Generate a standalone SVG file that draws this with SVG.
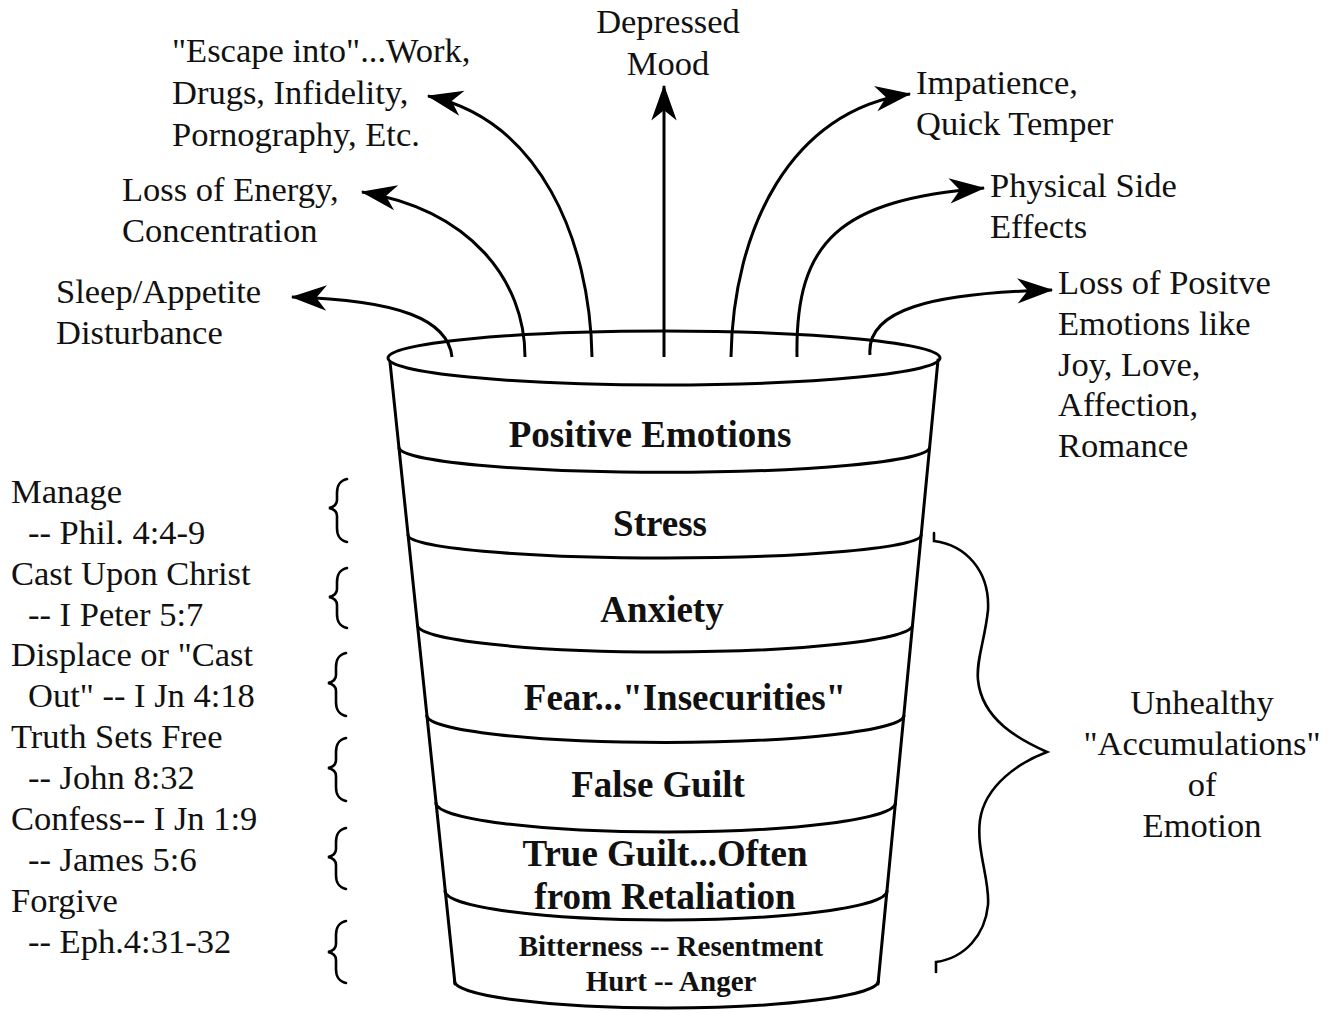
<svg xmlns="http://www.w3.org/2000/svg" width="1332" height="1013" viewBox="0 0 1332 1013">
<style>
  .t { font-family: "Liberation Serif", "Times New Roman", serif; font-size: 34.5px; fill: #111; }
  .b { font-family: "Liberation Serif", "Times New Roman", serif; font-size: 37px; font-weight: bold; fill: #111; text-anchor: middle; }
  .bs { font-family: "Liberation Serif", "Times New Roman", serif; font-size: 29px; font-weight: bold; fill: #111; text-anchor: middle; }
  .c { text-anchor: middle; }
  .ln { fill: none; stroke: #000; stroke-width: 3; stroke-linecap: round; }
  .arr { fill: none; stroke: #000; stroke-width: 3; marker-end: url(#ah); }
  .br { fill: none; stroke: #000; stroke-width: 2.6; stroke-linecap: round; }
</style>
<defs>
  <marker id="ah" markerUnits="userSpaceOnUse" markerWidth="40" markerHeight="30" viewBox="-32 -13 34 26" refX="0" refY="0" orient="auto">
    <path d="M1,0 L-30,-11 L-21,0 L-30,11 Z" fill="#000"/>
  </marker>
</defs>
<rect width="1332" height="1013" fill="#fff"/>

<g id="cup">
  <ellipse cx="664" cy="358" rx="276" ry="27" class="ln"/>
  <path class="ln" d="M390,362 L455,984"/>
  <path class="ln" d="M938,360 L878,984"/>
  <path class="ln" d="M399,448 A265.4,25 0 0 0 929.6,448"/>
  <path class="ln" d="M408,535 A256.6,23 0 0 0 921.2,535"/>
  <path class="ln" d="M417.4,625 A247.6,27 0 0 0 912.6,625"/>
  <path class="ln" d="M426.8,716 A238.6,27 0 0 0 903.9,716"/>
  <path class="ln" d="M435.9,803 A229.8,29 0 0 0 895.5,803"/>
  <path class="ln" d="M445,891 A221,29 0 0 0 887,891"/>
  <path class="ln" d="M454.4,981 A212,27 0 0 0 878.4,981"/>
</g>

<g id="layer-positive"><text class="b" x="650" y="447">Positive Emotions</text></g>
<g id="layer-stress"><text class="b" x="660" y="536">Stress</text></g>
<g id="layer-anxiety"><text class="b" x="662" y="622">Anxiety</text></g>
<g id="layer-fear"><text class="b" x="685" y="710">Fear..."Insecurities"</text></g>
<g id="layer-falseguilt"><text class="b" x="658" y="797">False Guilt</text></g>
<g id="layer-trueguilt"><text class="b" x="665" y="866">True Guilt...Often</text><text class="b" x="665" y="909">from Retaliation</text></g>
<g id="layer-bitterness"><text class="bs" x="671" y="956">Bitterness -- Resentment</text><text class="bs" x="671" y="991">Hurt -- Anger</text></g>

<g id="connectors">
  <path class="arr" d="M452,357 C448,320 400,300 292,297"/>
  <path class="arr" d="M525,357 C525,280 470,210 362,192"/>
  <path class="arr" d="M592,357 C590,240 540,120 428,96"/>
  <path class="arr" d="M664,357 L664,86"/>
  <path class="arr" d="M731,357 C733,230 790,110 910,94"/>
  <path class="arr" d="M797,357 C795,240 840,200 984,188"/>
  <path class="arr" d="M870,355 C866,310 930,293 1052,290"/>
</g>

<g id="out-depressed"><text class="t c" x="668" y="33">Depressed</text><text class="t c" x="668" y="75">Mood</text></g>
<g id="out-escape"><text class="t" x="172" y="62">"Escape into"...Work,</text><text class="t" x="172" y="104">Drugs, Infidelity,</text><text class="t" x="172" y="146">Pornography, Etc.</text></g>
<g id="out-energy"><text class="t" x="122" y="201">Loss of Energy,</text><text class="t" x="122" y="242">Concentration</text></g>
<g id="out-sleep"><text class="t" x="56" y="303">Sleep/Appetite</text><text class="t" x="56" y="344">Disturbance</text></g>
<g id="out-impatience"><text class="t" x="916" y="94">Impatience,</text><text class="t" x="916" y="135">Quick Temper</text></g>
<g id="out-physical"><text class="t" x="990" y="197">Physical Side</text><text class="t" x="990" y="238">Effects</text></g>
<g id="out-positive"><text class="t" x="1058" y="294">Loss of Positve</text><text class="t" x="1058" y="335">Emotions like</text><text class="t" x="1058" y="376">Joy, Love,</text><text class="t" x="1058" y="416">Affection,</text><text class="t" x="1058" y="457">Romance</text></g>

<g id="remedies">
  <text class="t" x="11" y="503">Manage</text>
  <text class="t" x="28" y="544">-- Phil. 4:4-9</text>
  <text class="t" x="11" y="585">Cast Upon Christ</text>
  <text class="t" x="28" y="626">-- I Peter 5:7</text>
  <text class="t" x="11" y="666">Displace or "Cast</text>
  <text class="t" x="28" y="707">Out" -- I Jn 4:18</text>
  <text class="t" x="11" y="748">Truth Sets Free</text>
  <text class="t" x="28" y="789">-- John 8:32</text>
  <text class="t" x="11" y="830">Confess-- I Jn 1:9</text>
  <text class="t" x="28" y="871">-- James 5:6</text>
  <text class="t" x="11" y="912">Forgive</text>
  <text class="t" x="28" y="953">-- Eph.4:31-32</text>
</g>

<g id="small-braces">
  <path class="br" d="M347,479 C339,481 337,486 337,493 L337,500 C337,504 334,507 329,508 C334,509 337,512 337,516 L337,528 C337,535 339,540 347,542"/>
  <path class="br" d="M347,568 C339,570 337,575 337,582 L337,589 C337,593 334,596 329,597 C334,598 337,601 337,605 L337,614 C337,621 339,626 347,628"/>
  <path class="br" d="M346,653 C338,655 336,660 336,667 L336,675 C336,679 333,682 328,683 C333,684 336,687 336,691 L336,702 C336,709 338,714 346,716"/>
  <path class="br" d="M346,738 C338,740 336,745 336,752 L336,760 C336,764 333,767 328,768 C333,769 336,772 336,776 L336,787 C336,794 338,799 346,801"/>
  <path class="br" d="M346,828 C338,830 336,835 336,842 L336,849 C336,853 333,856 328,857 C333,858 336,861 336,865 L336,875 C336,882 338,887 346,889"/>
  <path class="br" d="M346,921 C338,923 336,928 336,935 L336,944 C336,948 333,951 328,952 C333,953 336,956 336,960 L336,969 C336,976 338,981 346,983"/>
</g>

<g id="big-brace">
  <path class="br" d="M934,533 L934,541 C965,545 990,570 988,610 C985,640 976,660 978,680 C982,720 1020,740 1047,752 C1020,762 985,785 980,820 C976,850 990,880 988,905 C985,935 965,958 936,962 L936,972"/>
</g>
<g id="label-unhealthy">
  <text class="t c" x="1202" y="714">Unhealthy</text>
  <text class="t c" x="1202" y="755">"Accumulations"</text>
  <text class="t c" x="1202" y="796">of</text>
  <text class="t c" x="1202" y="837">Emotion</text>
</g>
</svg>
